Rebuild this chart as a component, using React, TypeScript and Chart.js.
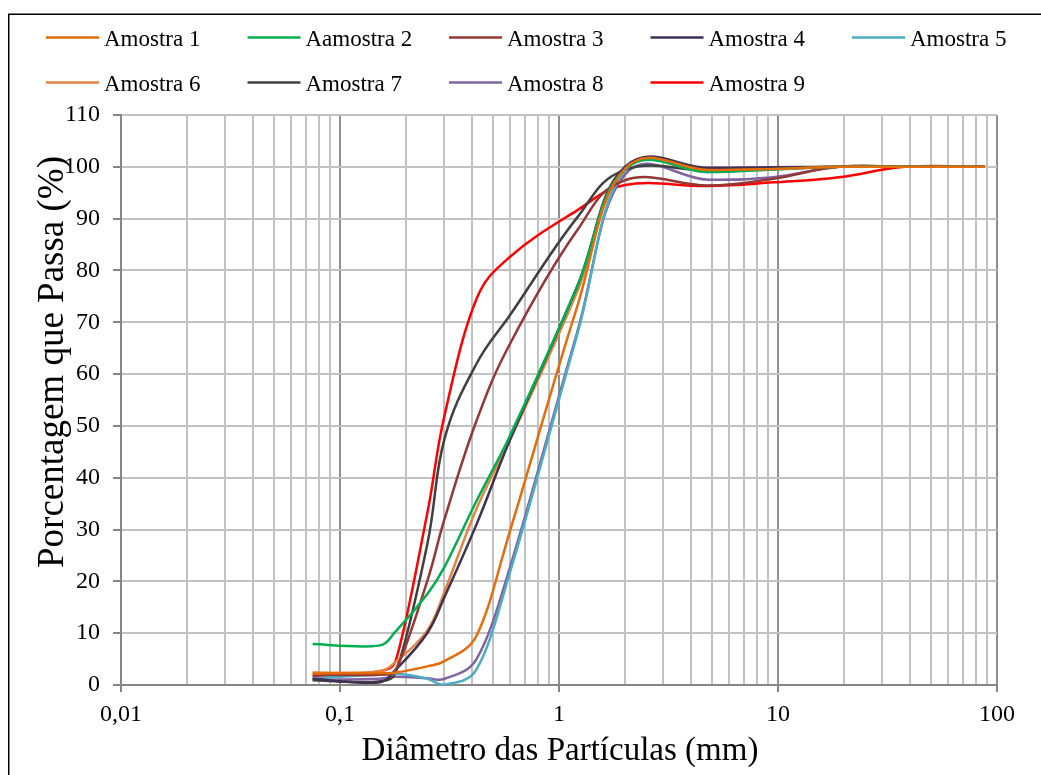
import { useEffect, useRef } from 'react';
import { Chart, registerables } from 'chart.js';

Chart.register(...registerables);

// Sieve openings (mm)
const sieveSizes = [0.075, 0.15, 0.18, 0.25, 0.3, 0.42, 0.6, 1.2, 2.0, 4.8, 9.5, 19, 38, 88];

// Percent passing for each sample
const amostra1 = [2.2, 2.3, 2.4, 3.6, 4.6, 9.5, 30, 72.5, 99.6, 99.4, 99.6, 100, 100, 100];
const amostra2 = [7.9, 7.6, 10.4, 17.5, 22.8, 35.5, 48.3, 76.5, 99.5, 99.0, 99.5, 100, 100, 100];
const amostra3 = [2.0, 2.0, 3.0, 20, 32, 51, 66, 87.5, 97.4, 96.4, 97.7, 100, 100, 100];
const amostra4 = [1.2, 0.5, 3.0, 10, 17, 31, 47.5, 76.5, 100, 99.8, 99.9, 100, 100, 100];
const amostra5 = [1.3, 2.0, 2.2, 1.2, 0.1, 3, 22, 67, 99.3, 99.0, 99.5, 100, 100, 100];
const amostra6 = [2.4, 2.6, 4.5, 10.5, 18, 34, 47.5, 75.5, 99.8, 99.5, 99.7, 100, 100, 100];
const amostra7 = [0.9, 0.7, 2.5, 27, 47.5, 62, 71.5, 90, 99.4, 99.3, 99.6, 100, 100, 100];
const amostra8 = [1.0, 1.2, 1.6, 1.3, 1.2, 5, 23, 67.5, 98.5, 97.5, 98, 100, 100, 100];
const amostra9 = [1.6, 2.6, 4.8, 33, 52, 74.5, 82.7, 91.5, 96.5, 96.3, 97, 98, 100, 100];

const seriesValues = [amostra1, amostra2, amostra3, amostra4, amostra5, amostra6, amostra7, amostra8, amostra9];
const seriesLabels = ['Amostra 1', 'Aamostra 2', 'Amostra 3', 'Amostra 4', 'Amostra 5', 'Amostra 6', 'Amostra 7', 'Amostra 8', 'Amostra 9'];
const seriesColors = ['#E46C0A', '#00B050', '#953735', '#403152', '#4BACC6', '#E5843F', '#404040', '#8064A2', '#FF0000'];

const xTitle = 'Diâmetro das Partículas (mm)';
const yTitle = 'Porcentagem que Passa (%)';
const yMin = 0;
const yMax = 110;
const yStep = 10;
const xMin = 0.01;
const xMax = 100;

// Excel-like smoothing strength
const SMOOTH_K = 0.42;

function buildLogTicks(): number[] {
  const out: number[] = [];
  for (let k = -2; k <= 1; k++) {
    for (let m = 1; m <= 9; m++) {
      out.push(parseFloat((m * Math.pow(10, k)).toPrecision(6)));
    }
  }
  out.push(100);
  return out;
}
const xTickValues = buildLogTicks();

function isDecade(v: number): boolean {
  const l = Math.log10(v);
  return Math.abs(l - Math.round(l)) < 1e-9;
}

function formatDecade(v: number): string {
  if (v >= 1) return String(Math.round(v));
  const digits = Math.round(-Math.log10(v));
  return v.toFixed(digits).replace('.', ',');
}

// Replace Chart.js control points with Excel-style smoothing (computed from the scale pixels)
const smoothPlugin = {
  id: 'excelSmooth',
  beforeDatasetDraw(chart: any, args: any) {
    const meta = args.meta;
    const pts = meta.data as any[];
    const n = pts.length;
    if (n < 2) return;
    for (let i = 0; i < n; i++) {
      const p = pts[i];
      const prev = pts[Math.max(0, i - 1)];
      const next = pts[Math.min(n - 1, i + 1)];
      const dx = next.x - prev.x;
      const dy = next.y - prev.y;
      const dChord = Math.hypot(dx, dy) || 1;
      const dPrev = Math.hypot(p.x - prev.x, p.y - prev.y);
      const dNext = Math.hypot(next.x - p.x, next.y - p.y);
      const fIn = Math.min(0.5, dPrev / dChord) * SMOOTH_K;
      const fOut = Math.min(0.5, dNext / dChord) * SMOOTH_K;
      p.cp1x = p.x - dx * fIn;
      p.cp1y = p.y - dy * fIn;
      p.cp2x = p.x + dx * fOut;
      p.cp2y = p.y + dy * fOut;
    }
    if (meta.dataset) {
      meta.dataset._pointsUpdated = true;
      meta.dataset._path = undefined;
    }
  },
};

const decorPlugin = {
  id: 'decor',
  afterDraw(chart: any) {
    const ctx = chart.ctx as CanvasRenderingContext2D;
    ctx.save();
    // outer border
    ctx.strokeStyle = '#000000';
    ctx.lineWidth = 1.5;
    ctx.strokeRect(8.75, 14.25, 2000, 2000);

    // legend
    ctx.font = '23px "Liberation Serif"';
    ctx.textAlign = 'left';
    ctx.textBaseline = 'alphabetic';
    ctx.fillStyle = '#000000';
    const ds = chart.data.datasets;
    for (let i = 0; i < ds.length; i++) {
      const row = i < 5 ? 0 : 1;
      const col = i < 5 ? i : i - 5;
      const lx = 46 + col * 201.5;
      const ly = row === 0 ? 37.5 : 82.5;
      ctx.strokeStyle = ds[i].borderColor;
      ctx.lineWidth = 2.5;
      ctx.beginPath();
      ctx.moveTo(lx, ly);
      ctx.lineTo(lx + 53, ly);
      ctx.stroke();
      ctx.fillText(ds[i].label, lx + 58, ly + 8.2);
    }

    // axis titles
    ctx.fillStyle = '#000000';
    ctx.font = '33px "Liberation Serif"';
    ctx.textAlign = 'center';
    ctx.fillText(xTitle, 560, 760);

    ctx.save();
    ctx.translate(63, 362);
    ctx.rotate(-Math.PI / 2);
    ctx.font = '37px "Liberation Serif"';
    ctx.textAlign = 'center';
    ctx.fillText(yTitle, 0, 0);
    ctx.restore();

    ctx.restore();
  },
};

export default function App() {
  const canvasRef = useRef<HTMLCanvasElement | null>(null);

  useEffect(() => {
    const canvas = canvasRef.current;
    if (!canvas) return;
    const chart = new Chart(canvas, {
      type: 'line',
      data: {
        datasets: seriesValues.map((vals, i) => ({
          label: seriesLabels[i],
          data: sieveSizes.map((x, j) => ({ x, y: vals[j] })),
          borderColor: seriesColors[i],
          backgroundColor: seriesColors[i],
          borderWidth: 2.5,
          pointRadius: 0,
          pointHoverRadius: 0,
          tension: 0.4,
          fill: false,
        })),
      },
      options: {
        responsive: false,
        animation: false,
        events: [],
        layout: { padding: { left: 0, top: 115, right: 44, bottom: 0 } },
        plugins: {
          legend: { display: false },
          tooltip: { enabled: false },
          title: { display: false },
        },
        scales: {
          x: {
            type: 'logarithmic',
            min: xMin,
            max: xMax,
            afterBuildTicks: (scale: any) => {
              scale.ticks = xTickValues.map((v) => ({ value: v }));
            },
            afterFit: (scale: any) => {
              scale.height = 90;
            },
            ticks: {
              autoSkip: false,
              maxRotation: 0,
              minRotation: 0,
              padding: 8,
              color: '#000000',
              font: { family: '"Liberation Serif"', size: 24 },
              callback: (value: any) => {
                const v = Number(value);
                return isDecade(v) ? formatDecade(v) : '';
              },
            },
            grid: {
              color: (c: any) => (c.tick && isDecade(c.tick.value) ? '#8f8f8f' : '#c2c2c2'),
              lineWidth: 2,
              tickLength: 7,
              tickColor: (c: any) => (c.tick && isDecade(c.tick.value) ? '#868686' : 'rgba(0,0,0,0)'),
            },
            border: { color: '#868686', width: 2 },
          },
          y: {
            min: yMin,
            max: yMax,
            afterFit: (scale: any) => {
              scale.width = 121;
            },
            ticks: {
              stepSize: yStep,
              padding: 13,
              color: '#000000',
              font: { family: '"Liberation Serif"', size: 24 },
            },
            grid: {
              color: '#c2c2c2',
              lineWidth: 2,
              tickLength: 8,
              tickColor: '#868686',
            },
            border: { color: '#868686', width: 2 },
          },
        },
      },
      plugins: [smoothPlugin, decorPlugin],
    } as any);
    return () => {
      chart.destroy();
    };
  }, []);

  return (
    <div style={{ position: 'absolute', left: 0, top: 0, width: 1041, height: 775, background: '#ffffff' }}>
      <canvas ref={canvasRef} width={1041} height={775} />
    </div>
  );
}
